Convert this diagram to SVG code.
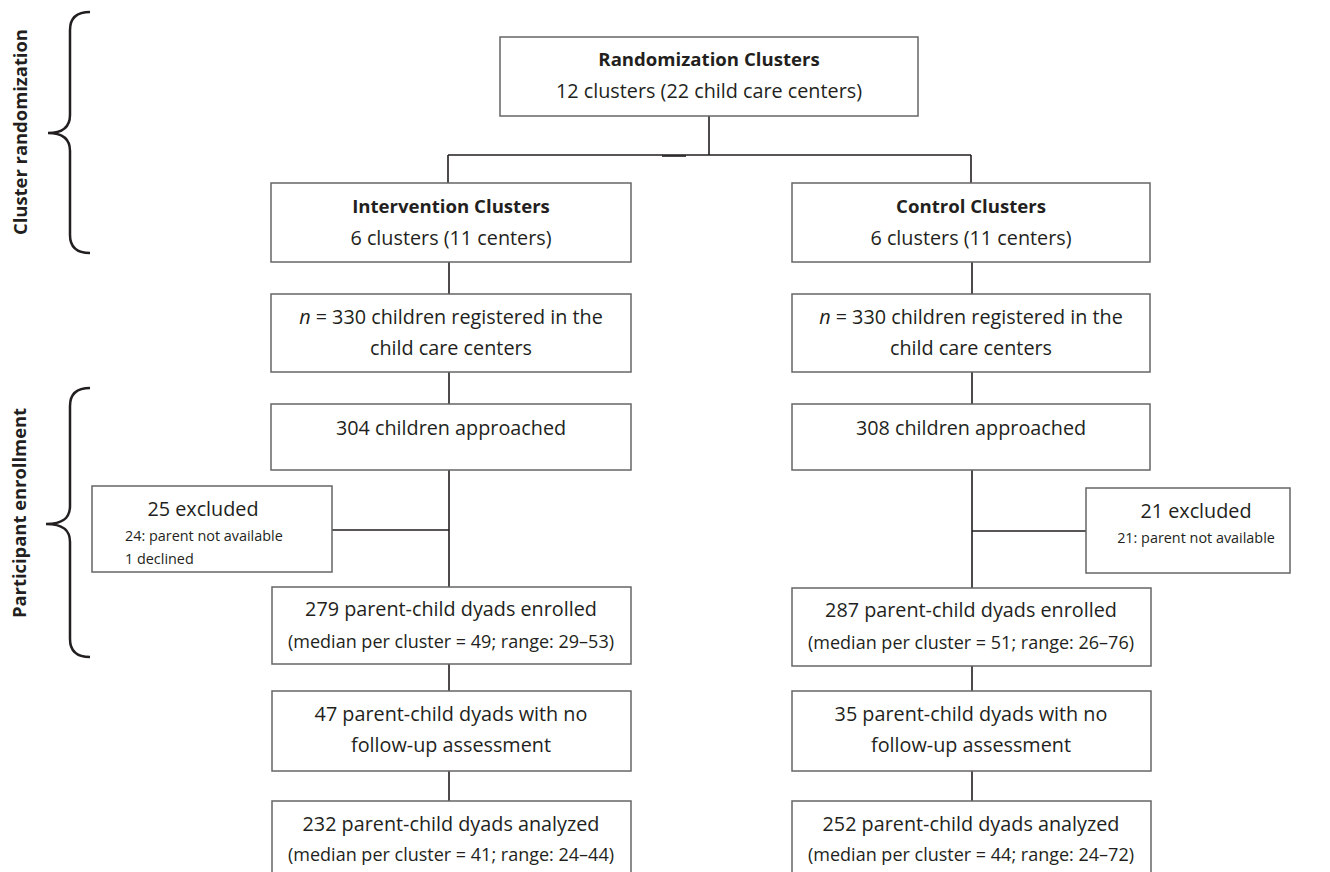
<svg xmlns="http://www.w3.org/2000/svg" width="1330" height="872" viewBox="0 0 1330 872">
<style>
.box{fill:#fff;stroke:#666;stroke-width:1.5}
.t{font-family:"Open Sans","Noto Sans",sans-serif;font-size:19.8px;fill:#231f20;text-anchor:middle}
.b{font-weight:bold;font-size:18.6px}
.s{font-size:18px}
.xs{font-size:14.4px}
.st{text-anchor:start}
.lbl{font-family:"Open Sans","Noto Sans",sans-serif;font-size:18.4px;font-weight:bold;fill:#231f20;text-anchor:middle}
.c{fill:none;stroke:#231f20;stroke-width:1.6}
.br{fill:none;stroke:#231f20;stroke-width:2.5}
</style>
<rect width="1330" height="872" fill="#fff"/>
<g id="connectors">
<path class="c" d="M709,116V155M448,155H971M448,155V183M971,155V183"/>
<path class="c" d="M662,156H686" stroke-width="2"/>
<path class="c" d="M449,262V294M449,372V404M449,470V587M332,530H449M449,664V691M449,771V801"/>
<path class="c" d="M972,262V294M972,372V404M972,470V588M972,531H1086M972,666V691M972,771V801"/>
</g>
<g id="brace-cluster">
<path class="br" d="M90,12C76,12 70,18 70,30V115C70,127 63,133 48,133C63,133 70,139 70,151V235C70,247 76,253 90,253"/>
<text class="lbl" transform="translate(27,132) rotate(-90)">Cluster randomization</text>
</g>
<g id="brace-enrollment">
<path class="br" d="M90,388C76,388 70,394 70,406V506C70,518 63,524 46,524C63,524 70,530 70,542V639C70,651 76,657 90,657"/>
<text class="lbl" transform="translate(26,513) rotate(-90)">Participant enrollment</text>
</g>
<g id="n-random">
<rect class="box" x="500" y="37" width="418" height="79"/>
<text class="t b" x="709" y="66">Randomization Clusters</text>
<text class="t" x="709" y="98">12 clusters (22 child care centers)</text>
</g>
<g id="n-int">
<rect class="box" x="271" y="183" width="360" height="79"/>
<text class="t b" x="451" y="213">Intervention Clusters</text>
<text class="t" x="451" y="245">6 clusters (11 centers)</text>
</g>
<g id="n-ctl">
<rect class="box" x="792" y="183" width="358" height="79"/>
<text class="t b" x="971" y="213">Control Clusters</text>
<text class="t" x="971" y="245">6 clusters (11 centers)</text>
</g>
<g id="n-int-reg">
<rect class="box" x="271" y="294" width="360" height="78"/>
<text class="t" x="451" y="324"><tspan font-style="italic">n</tspan> = 330 children registered in the</text>
<text class="t" x="451" y="355">child care centers</text>
</g>
<g id="n-ctl-reg">
<rect class="box" x="792" y="294" width="358" height="78"/>
<text class="t" x="971" y="324"><tspan font-style="italic">n</tspan> = 330 children registered in the</text>
<text class="t" x="971" y="355">child care centers</text>
</g>
<g id="n-int-appr">
<rect class="box" x="271" y="404" width="360" height="66"/>
<text class="t" x="451" y="435">304 children approached</text>
</g>
<g id="n-ctl-appr">
<rect class="box" x="792" y="404" width="358" height="66"/>
<text class="t" x="971" y="435">308 children approached</text>
</g>
<g id="n-int-excl">
<rect class="box" x="92" y="486" width="240" height="86"/>
<text class="t" x="203" y="516">25 excluded</text>
<text class="t xs st" x="125" y="541">24: parent not available</text>
<text class="t xs st" x="125" y="564">1 declined</text>
</g>
<g id="n-ctl-excl">
<rect class="box" x="1086" y="488" width="204" height="85"/>
<text class="t" x="1196" y="518">21 excluded</text>
<text class="t xs" x="1196" y="543">21: parent not available</text>
</g>
<g id="n-int-enr">
<rect class="box" x="272" y="587" width="359" height="77"/>
<text class="t" x="451" y="616">279 parent-child dyads enrolled</text>
<text class="t s" x="451" y="648">(median per cluster = 49; range: 29–53)</text>
</g>
<g id="n-ctl-enr">
<rect class="box" x="792" y="588" width="359" height="78"/>
<text class="t" x="971" y="617">287 parent-child dyads enrolled</text>
<text class="t s" x="971" y="649">(median per cluster = 51; range: 26–76)</text>
</g>
<g id="n-int-lost">
<rect class="box" x="272" y="691" width="359" height="80"/>
<text class="t" x="451" y="721">47 parent-child dyads with no</text>
<text class="t" x="451" y="752">follow-up assessment</text>
</g>
<g id="n-ctl-lost">
<rect class="box" x="792" y="691" width="359" height="80"/>
<text class="t" x="971" y="721">35 parent-child dyads with no</text>
<text class="t" x="971" y="752">follow-up assessment</text>
</g>
<g id="n-int-an">
<rect class="box" x="272" y="801" width="359" height="90"/>
<text class="t" x="451" y="831">232 parent-child dyads analyzed</text>
<text class="t s" x="451" y="861">(median per cluster = 41; range: 24–44)</text>
</g>
<g id="n-ctl-an">
<rect class="box" x="792" y="801" width="359" height="90"/>
<text class="t" x="971" y="831">252 parent-child dyads analyzed</text>
<text class="t s" x="971" y="861">(median per cluster = 44; range: 24–72)</text>
</g>
</svg>
